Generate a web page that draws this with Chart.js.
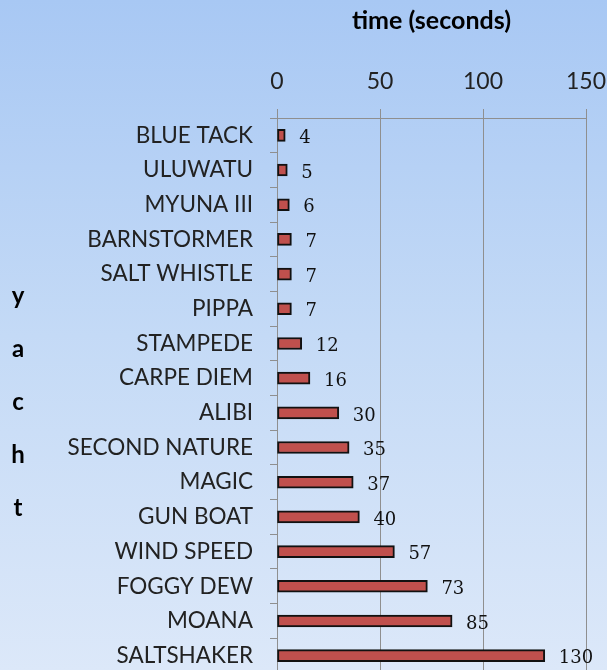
<!DOCTYPE html>
<html>
<head>
<meta charset="utf-8">
<script src="https://cdn.jsdelivr.net/npm/chart.js@4"></script>
<style>
  html, body { margin: 0; padding: 0; overflow: hidden; }
  body { width: 607px; height: 670px; background: linear-gradient(to bottom, #a8c8f4 0%, #c4daf6 50%, #dce8f9 100%); }
  canvas { display: block; }
</style>
</head>
<body>
<canvas id="yachtChart" width="607" height="675"></canvas>
<script>
// 데이터
const yachts = ['BLUE TACK', 'ULUWATU', 'MYUNA III', 'BARNSTORMER', 'SALT WHISTLE', 'PIPPA', 'STAMPEDE',
  'CARPE DIEM', 'ALIBI', 'SECOND NATURE', 'MAGIC', 'GUN BOAT', 'WIND SPEED', 'FOGGY DEW', 'MOANA', 'SALTSHAKER'];
const times = [4, 5, 6, 7, 7, 7, 12, 16, 30, 35, 37, 40, 57, 73, 85, 130];
const xTicks = [0, 50, 100, 150];
const yTitle = ['y', 'a', 'c', 'h', 't'];

// 막대 끝에 값 표시
const valueLabels = {
  id: 'valueLabels',
  afterDatasetsDraw(chart) {
    const ctx = chart.ctx;
    const meta = chart.getDatasetMeta(0);
    ctx.save();
    ctx.font = '18px "DejaVu Serif", serif';
    ctx.fillStyle = '#111';
    ctx.textBaseline = 'middle';
    meta.data.forEach((bar, i) => {
      ctx.fillText(String(times[i]), bar.x + 14, bar.y + 3);
    });
    ctx.restore();
  }
};

// 세로로 쌓은 y축 제목
const stackedTitle = {
  id: 'stackedTitle',
  afterDraw(chart) {
    const ctx = chart.ctx;
    ctx.save();
    ctx.font = 'bold 24px Lato, sans-serif';
    ctx.fillStyle = '#000';
    ctx.textAlign = 'center';
    ctx.textBaseline = 'middle';
    yTitle.forEach((ch, i) => {
      ctx.fillText(ch, 18, 296 + i * 53);
    });
    ctx.restore();
  }
};

const ctx = document.getElementById('yachtChart').getContext('2d');
new Chart(ctx, {
  type: 'bar',
  data: {
    labels: yachts,
    datasets: [{
      data: times,
      backgroundColor: '#c0504d',
      borderColor: '#111',
      borderWidth: 2,
      borderSkipped: false,
      barThickness: 12
    }]
  },
  options: {
    indexAxis: 'y',
    responsive: false,
    animation: false,
    layout: { padding: { left: 30, right: 21, top: 0, bottom: 2 } },
    plugins: {
      legend: { display: false },
      tooltip: { enabled: false }
    },
    scales: {
      x: {
        position: 'top',
        min: 0,
        max: 150,
        afterBuildTicks(scale) { scale.ticks = xTicks.map(v => ({ value: v })); },
        afterFit(scale) {
          scale.height = 118;
          scale.paddingLeft = 0;
          scale.paddingRight = 0;
        },
        title: {
          display: true,
          text: 'time (seconds)',
          color: '#000',
          font: { family: 'Lato, sans-serif', size: 25, weight: 'bold' },
          padding: { top: 6, bottom: 16 }
        },
        ticks: {
          color: '#222',
          font: { family: 'Lato, sans-serif', size: 23 },
          padding: 14
        },
        grid: { color: '#8f8f8f', lineWidth: 1, tickLength: 9 },
        border: { color: '#8f8f8f' }
      },
      y: {
        afterFit(scale) {
          scale.width = 247;
          scale.paddingTop = 0;
          scale.paddingBottom = 0;
        },
        ticks: {
          color: '#222',
          font: { family: 'Lato, sans-serif', size: 22.5 },
          padding: 17
        },
        grid: { drawOnChartArea: false, color: '#8f8f8f', tickLength: 7 },
        border: { color: '#8f8f8f' }
      }
    }
  },
  plugins: [valueLabels, stackedTitle]
});
</script>
</body>
</html>
